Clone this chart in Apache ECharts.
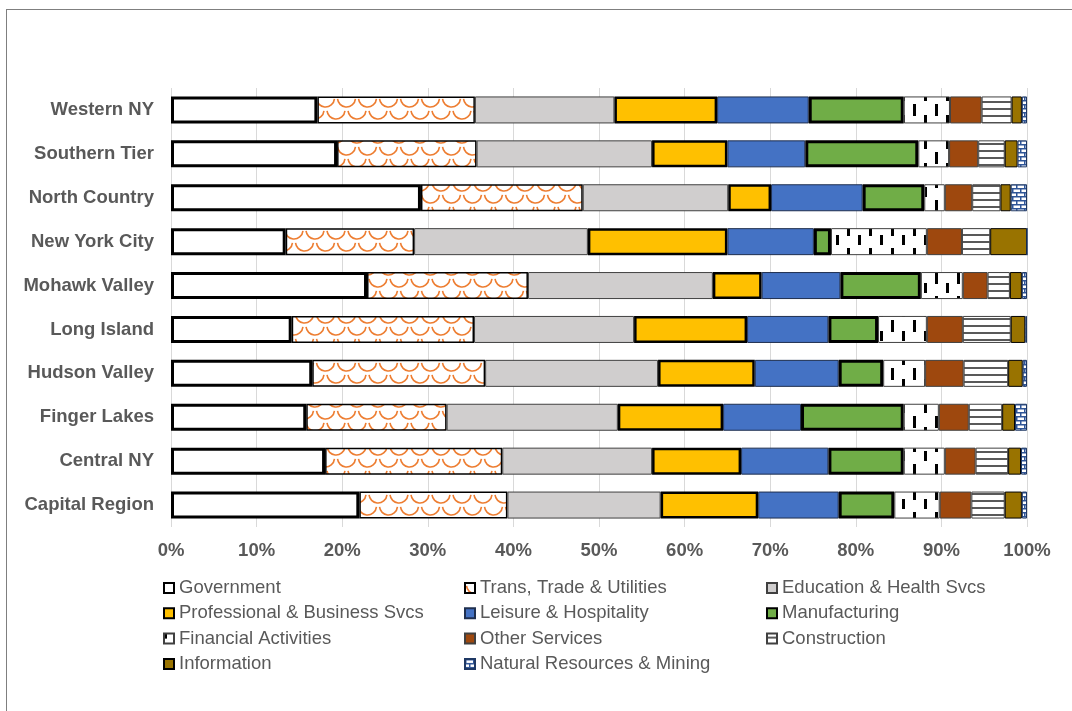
<!DOCTYPE html>
<html>
<head>
<meta charset="utf-8">
<script src="https://cdn.jsdelivr.net/npm/echarts@6/dist/echarts.min.js"></script>
<style>
  body { margin: 0; background: #fff; }
  #frame { position: absolute; left: 6px; top: 9px; width: 1100px; height: 750px;
           border-left: 1px solid #7f7f7f; border-top: 1px solid #7f7f7f; }
  #main { position: absolute; left: 0; top: 0; width: 1072px; height: 711px; }
</style>
</head>
<body>
<div id="frame"></div>
<div id="main"></div>
<script>
// regions, bottom to top as drawn
var regions = ['Capital Region', 'Central NY', 'Finger Lakes', 'Hudson Valley', 'Long Island',
    'Mohawk Valley', 'New York City', 'North Country', 'Southern Tier', 'Western NY'];

// shares in % per sector, same order as regions
var government   = [22.0, 18.0, 15.8, 16.5, 14.1, 22.9, 13.4, 29.2, 19.4, 17.1];
var transTrade   = [17.3, 20.7, 16.4, 20.2, 21.3, 18.8, 15.0, 18.9, 16.3, 18.4];
var eduHealth    = [17.9, 17.5, 20.0, 20.2, 18.7, 21.6, 20.3, 17.0, 20.5, 16.3];
var professional = [11.4, 10.4, 12.3, 11.3, 13.2, 5.7, 16.3, 5.0, 8.8, 12.0];
var leisure      = [9.4, 10.2, 9.1, 9.8, 9.5, 9.2, 10.1, 10.7, 9.1, 10.7];
var manufacturing= [6.5, 8.8, 12.0, 5.2, 5.8, 9.4, 2.0, 7.2, 13.2, 11.1];
var financial    = [5.3, 4.8, 4.1, 4.9, 5.7, 4.9, 11.2, 2.4, 3.6, 5.4];
var otherSvcs    = [3.7, 3.6, 3.5, 4.5, 4.2, 2.9, 4.1, 3.2, 3.4, 3.7];
var construction = [3.9, 3.8, 3.9, 5.2, 5.6, 2.6, 3.3, 3.3, 3.1, 3.5];
var information  = [2.0, 1.5, 1.5, 1.7, 1.7, 1.4, 4.3, 1.2, 1.5, 1.2];
var natResources = [0.6, 0.7, 1.4, 0.5, 0.2, 0.6, 0.0, 1.9, 1.1, 0.6];

var xTicks = ['0%', '10%', '20%', '30%', '40%', '50%', '60%', '70%', '80%', '90%', '100%'];

function tile(w, h, draw) {
    var c = document.createElement('canvas');
    c.width = w; c.height = h;
    var ctx = c.getContext('2d');
    ctx.fillStyle = '#fff';
    ctx.fillRect(0, 0, w, h);
    draw(ctx);
    return { image: c, repeat: 'repeat' };
}

// orange scallop waves
var wavePat = tile(21, 24, function (ctx) {
    ctx.strokeStyle = '#ED7D31';
    ctx.lineWidth = 1.6;
    ctx.beginPath(); ctx.arc(10.5, 2, 9, 0.1, Math.PI - 0.1); ctx.stroke();
    ctx.beginPath(); ctx.arc(0, 14, 9, 0.1, Math.PI - 0.1); ctx.stroke();
    ctx.beginPath(); ctx.arc(21, 14, 9, 0.1, Math.PI - 0.1); ctx.stroke();
});
// black short dashes
var dashPat = tile(22, 24, function (ctx) {
    ctx.fillStyle = '#000';
    ctx.fillRect(0, 0, 3, 5);
    ctx.fillRect(0, 19, 3, 5);
    ctx.fillRect(11, 8, 3, 12);
});
// gray horizontal lines
var hlinePat = tile(8, 7, function (ctx) {
    ctx.fillStyle = '#595959';
    ctx.fillRect(0, 3, 8, 2);
});
// blue bricks
var brickPat = tile(8, 8, function (ctx) {
    ctx.fillStyle = '#2F5597';
    ctx.fillRect(0, 0, 8, 1.5);
    ctx.fillRect(0, 4, 8, 1.5);
    ctx.fillRect(0, 0, 1.5, 4);
    ctx.fillRect(4, 4, 1.5, 4);
});

function bar(name, data, color, borderColor, borderWidth) {
    return {
        name: name, type: 'bar', stack: 'all', data: data, barWidth: 27,
        itemStyle: { color: color, borderColor: borderColor, borderWidth: borderWidth },
        emphasis: { disabled: true }
    };
}

var myChart = echarts.init(document.getElementById('main'));
var legendText = { color: '#595959', fontSize: 18.5, fontFamily: 'Liberation Sans', lineHeight: 20 };
function legend(left, names) {
    return {
        left: left, top: 573, orient: 'vertical', itemWidth: 10, itemHeight: 10,
        itemGap: 5.3, data: names, textStyle: legendText, icon: 'rect'
    };
}
var option = {
    animation: false,
    grid: { left: 171, right: 45, top: 88, bottom: 184 },
    legend: [
        legend(158, ['Government', 'Professional & Business Svcs', 'Financial Activities', 'Information']),
        legend(459, ['Trans, Trade & Utilities', 'Leisure & Hospitality', 'Other Services', 'Natural Resources & Mining']),
        legend(761, ['Education & Health Svcs', 'Manufacturing', 'Construction'])
    ],
    xAxis: {
        type: 'value', min: 0, max: 100, interval: 10,
        axisLine: { show: false }, axisTick: { show: false },
        splitLine: { lineStyle: { color: '#D9D9D9', width: 1 } },
        axisLabel: {
            margin: 14, color: '#595959', fontSize: 18.5, fontWeight: 'bold',
            fontFamily: 'Liberation Sans',
            formatter: function (v) { return xTicks[Math.round(v / 10)]; }
        }
    },
    yAxis: {
        type: 'category', data: regions,
        axisLine: { show: false }, axisTick: { show: false },
        axisLabel: { margin: 17, color: '#595959', fontSize: 18.5, fontWeight: 'bold', fontFamily: 'Liberation Sans' }
    },
    series: [
        bar('Government', government, '#fff', '#000', 3),
        bar('Trans, Trade & Utilities', transTrade, wavePat, '#000', 1.5),
        bar('Education & Health Svcs', eduHealth, '#D0CECE', '#404040', 1),
        bar('Professional & Business Svcs', professional, '#FFC000', '#000', 2.5),
        bar('Leisure & Hospitality', leisure, '#4472C4', '#1F2F4F', 1),
        bar('Manufacturing', manufacturing, '#70AD47', '#000', 3),
        bar('Financial Activities', financial, dashPat, '#404040', 1),
        bar('Other Services', otherSvcs, '#9E480E', '#404040', 1),
        bar('Construction', construction, hlinePat, '#404040', 1),
        bar('Information', information, '#997300', '#000', 1),
        bar('Natural Resources & Mining', natResources, brickPat, '#1F3864', 1)
    ]
};
myChart.setOption(option);
</script>
</body>
</html>
